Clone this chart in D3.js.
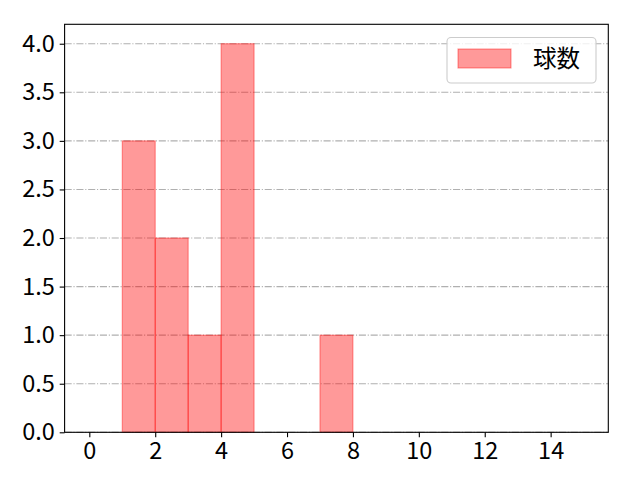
<!DOCTYPE html>
<html><head><meta charset="utf-8">
<script src="https://cdn.jsdelivr.net/npm/d3@7"></script>
<style>body{margin:0;background:#fff}svg{display:block}</style>
</head><body>
<script>
const binStarts = [0,1,2,3,4,5,6,7,8,9,10,11,12,13,14];
const counts    = [0,3,2,1,4,0,0,1,0,0,0,0,0,0,0];
const xTicks = [0,2,4,6,8,10,12,14];
const yTicks = [0,0.5,1,1.5,2,2.5,3,3.5,4];
const seriesName = "球数";

const W=640,H=480, L=64.6, R=608.3, T=24.3, B=432.3;
const font = "'Noto Sans CJK JP','Noto Sans',sans-serif";
const fs = "23.5px";
const svg = d3.select("body").append("svg").attr("width",W).attr("height",H);
const x = d3.scaleLinear().domain([-0.75,15.75]).range([L,R]);
const y = d3.scaleLinear().domain([0,4.2]).range([B,T]);

// grid
svg.append("g").selectAll("line").data(yTicks).join("line")
  .attr("x1",L).attr("x2",R).attr("y1",d=>y(d)).attr("y2",d=>y(d))
  .attr("stroke","#b0b0b0").attr("stroke-width",1.1)
  .attr("stroke-dasharray","7.1,1.78,1.11,1.78");

// bars
const bins = binStarts.map((s,i)=>({x0:s,x1:s+1,v:counts[i]})).filter(d=>d.v>0);
svg.append("g").selectAll("rect").data(bins).join("rect")
  .attr("x",d=>x(d.x0)).attr("width",d=>x(d.x1)-x(d.x0))
  .attr("y",d=>y(d.v)).attr("height",d=>y(0)-y(d.v))
  .attr("fill","rgba(255,0,0,0.4)").attr("stroke","rgba(255,0,0,0.4)").attr("stroke-width",1.1);

// axes
const xa = svg.append("g").attr("transform",`translate(0,${B})`)
  .call(d3.axisBottom(x).tickValues(xTicks).tickSize(4.9).tickPadding(4.9).tickFormat(d3.format("d")));
const ya = svg.append("g").attr("transform",`translate(${L},0)`)
  .call(d3.axisLeft(y).tickValues(yTicks).tickSize(4.9).tickPadding(4.9).tickFormat(d3.format(".1f")));
[xa,ya].forEach(a=>{
  a.select(".domain").remove();
  a.selectAll("line").attr("stroke","#000").attr("stroke-width",1.1);
  a.selectAll("text").attr("font-family",font).attr("font-size",fs).attr("fill","#000");
});
// frame
svg.append("rect").attr("x",L).attr("y",T).attr("width",R-L).attr("height",B-T)
  .attr("fill","none").attr("stroke","#000").attr("stroke-width",1.1);

// legend
const lg = svg.append("g");
lg.append("rect").attr("x",447).attr("y",37.5).attr("width",149).attr("height",45.5).attr("rx",4)
  .attr("fill","rgba(255,255,255,0.8)").attr("stroke","#cccccc").attr("stroke-width",1.1);
lg.append("rect").attr("x",458).attr("y",49).attr("width",53).attr("height",19)
  .attr("fill","rgba(255,0,0,0.4)").attr("stroke","rgba(255,0,0,0.4)").attr("stroke-width",1.1);
lg.append("text").attr("x",533).attr("y",59).attr("dy","0.35em").text(seriesName)
  .attr("font-family",font).attr("font-size",fs).attr("fill","#000");
</script>
</body></html>
